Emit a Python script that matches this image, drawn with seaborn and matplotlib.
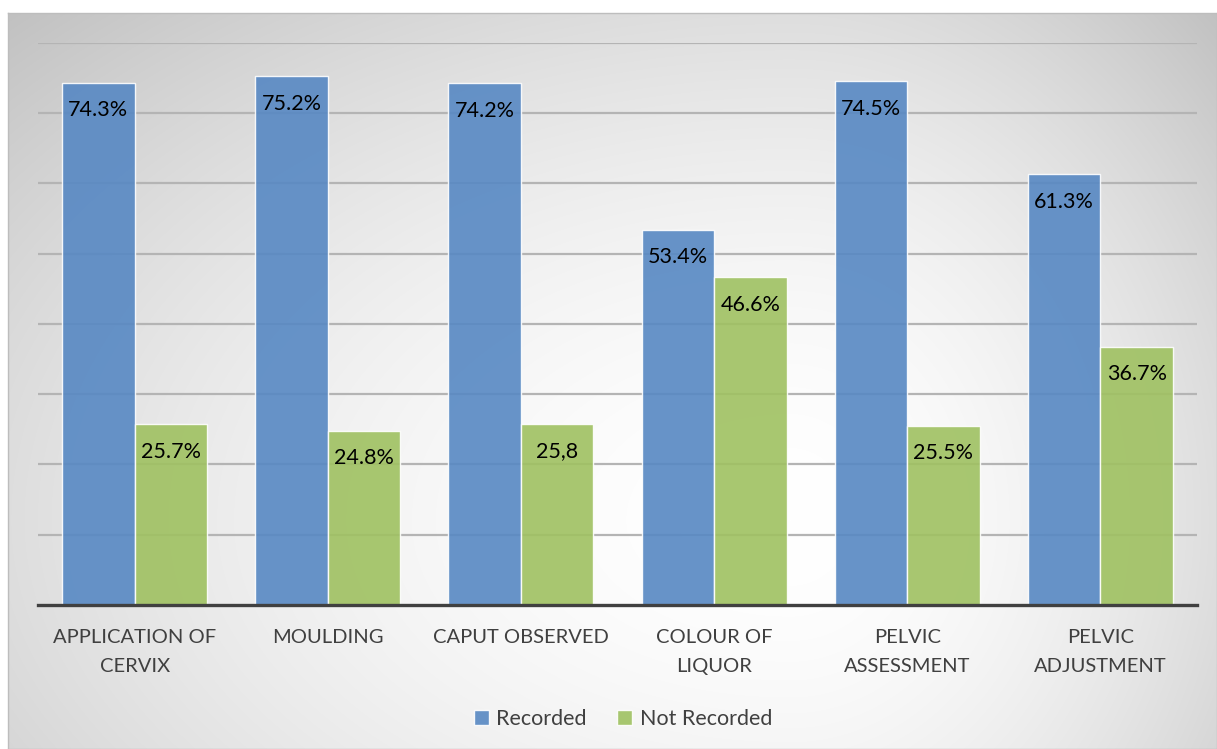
import numpy as np
import pandas as pd
import matplotlib
matplotlib.use("Agg")
import matplotlib.pyplot as plt
from matplotlib.patches import Patch
import seaborn as sns

# Partograph components and the share of charts where each was recorded
categories = ["APPLICATION OF\nCERVIX", "MOULDING", "CAPUT OBSERVED",
              "COLOUR OF\nLIQUOR", "PELVIC\nASSESSMENT", "PELVIC\nADJUSTMENT"]
recorded = [74.3, 75.2, 74.2, 53.4, 74.5, 61.3]
not_recorded = [25.7, 24.8, 25.8, 46.6, 25.5, 36.7]
recorded_labels = ["74.3%", "75.2%", "74.2%", "53.4%", "74.5%", "61.3%"]
not_recorded_labels = ["25.7%", "24.8%", "25,8", "46.6%", "25.5%", "36.7%"]
series = ["Recorded", "Not Recorded"]
colors = ["#5788C3", "#9FC161"]

df = pd.DataFrame({
    "category": categories * 2,
    "status": [series[0]] * len(categories) + [series[1]] * len(categories),
    "value": recorded + not_recorded,
})

sns.set_theme(style="white")
plt.rcParams["font.family"] = ["Lato", "DejaVu Sans"]

W, H = 1217, 749
fig = plt.figure(figsize=(W / 100, H / 100), dpi=100)
fig.patch.set_facecolor("white")

# chart area with a soft radial grey-to-white fill
x0, y0 = 8, 13
bg = fig.add_axes([x0 / W, 0, 1 - x0 / W, 1 - y0 / H])
xs = np.arange(x0, W)
ys = np.arange(y0, H)
X, Y = np.meshgrid(xs, ys)
cx, cy = 790, 520
nx = np.where(X < cx, (cx - X) / (cx - x0), (X - cx) / (W - cx))
ny = np.where(Y < cy, (cy - Y) / (cy - y0), (Y - cy) / (2 * (H - cy)))
r = np.clip(np.sqrt(nx ** 2 + ny ** 2) / np.sqrt(2), 0, 1)
val = (255 - 62 * r ** 1.8) / 255.0
bg.imshow(np.dstack([val, val, val]), aspect="auto", interpolation="bilinear")
bg.set_xticks([])
bg.set_yticks([])
for s in bg.spines.values():
    s.set_color("#BDBDBD")
    s.set_linewidth(1.0)
bg.set_zorder(0)

# plot area
ax = fig.add_axes([38 / W, 1 - 605 / H, (1197 - 38) / W, (605 - 42.6) / H])
ax.set_zorder(1)
ax.patch.set_alpha(0)

sns.barplot(data=df, x="category", y="value", hue="status", palette=colors,
            saturation=1, width=0.75, gap=0, alpha=0.9,
            edgecolor=(1, 1, 1, 0.6), linewidth=1.0, ax=ax, legend=False,
            zorder=3)

ax.set_ylim(0, 80)
ax.set_xlim(-0.5, len(categories) - 0.5)
ax.set_yticks(np.arange(10, 81, 10))
ax.yaxis.grid(True, color="#B4B4B4", linewidth=1.6, zorder=1)
ax.set_axisbelow(True)
ax.tick_params(axis="y", left=False, labelleft=False)
ax.tick_params(axis="x", length=0, pad=17, labelsize=14.5, labelcolor="#404040")
for t in ax.get_xticklabels():
    t.set_linespacing(1.85)
ax.set_xlabel("")
ax.set_ylabel("")
for side in ["top", "left", "right"]:
    ax.spines[side].set_visible(False)
ax.spines["bottom"].set_color("#404040")
ax.spines["bottom"].set_linewidth(2.4)
ax.spines["bottom"].set_zorder(5)

# value labels just inside the top of each bar
for container, labels in zip(ax.containers, [recorded_labels, not_recorded_labels]):
    ax.bar_label(container, labels=labels, label_type="edge", padding=-27,
                 fontsize=15.5, color="black", zorder=6)

handles = [Patch(facecolor=c, alpha=0.9, edgecolor=(1, 1, 1, 0.6), label=s)
           for c, s in zip(colors, series)]
fig.legend(handles=handles, loc="center", bbox_to_anchor=(623 / W, 1 - 719 / H),
           ncol=2, frameon=False, fontsize=15.5, labelcolor="#404040",
           handlelength=0.7, handleheight=0.7, handletextpad=0.35,
           columnspacing=1.4)

fig.savefig("out.png", dpi=100)
